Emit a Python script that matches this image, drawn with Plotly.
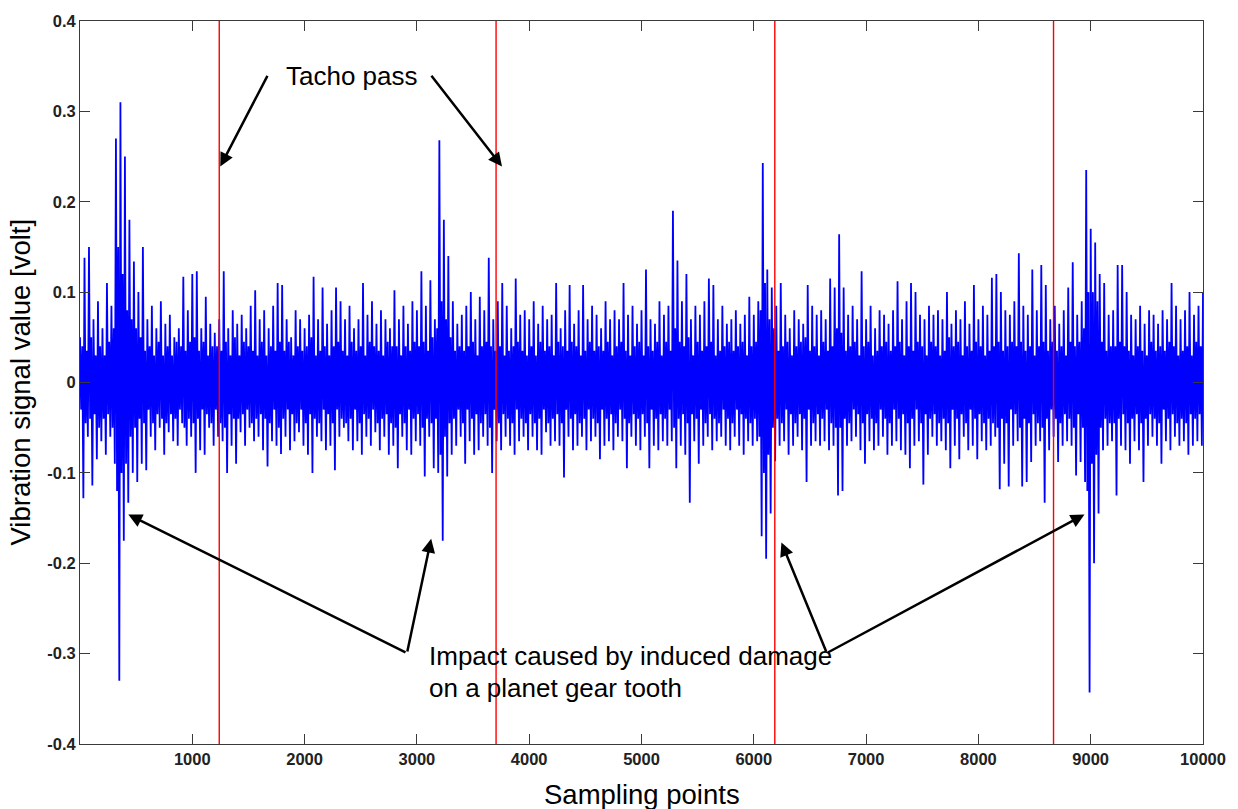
import plotly.graph_objects as go

# ---- data ----
sample_step = 10  # samples between listed values
vibration_volt = [
    0.05, -0.03, 0.04, -0.128, 0.138, -0.045, 0.035, -0.06, 0.15, -0.04, 0.05, -0.114, 0.07, -0.035, 0.03, -0.085, 0.09, -0.05, 0.04, -0.065,
    0.06, -0.04, 0.03, -0.08, 0.11, -0.035, 0.045, -0.06, 0.085, -0.05, 0.06, -0.09, 0.27, -0.12, 0.15, -0.33, 0.31, -0.1, 0.12, -0.175,
    0.25, -0.09, 0.08, -0.133, 0.18, -0.06, 0.07, -0.10, 0.134, -0.05, 0.06, -0.11, 0.10, -0.04, 0.05, -0.09, 0.15, -0.045, 0.035, -0.097,
    0.07, -0.03, 0.04, -0.06, 0.085, -0.045, 0.03, -0.075, 0.06, -0.035, 0.045, -0.05, 0.09, -0.04, 0.03, -0.08, 0.065, -0.045, 0.04, -0.055,
    0.075, -0.035, 0.03, -0.065, 0.05, -0.04, 0.045, -0.07, 0.06, -0.03, 0.04, -0.045, 0.117, -0.05, 0.035, -0.07, 0.08, -0.04, 0.045, -0.06,
    0.12, -0.045, 0.05, -0.10, 0.123, -0.04, 0.035, -0.075, 0.06, -0.03, 0.045, -0.08, 0.095, -0.035, 0.03, -0.05, 0.065, -0.045, 0.04, -0.07,
    0.055, -0.03, 0.04, -0.06, 0.07, -0.045, 0.035, -0.065, 0.123, -0.05, 0.045, -0.10, 0.06, -0.035, 0.03, -0.07, 0.08, -0.04, 0.05, -0.09,
    0.065, -0.04, 0.03, -0.055, 0.075, -0.035, 0.045, -0.07, 0.06, -0.03, 0.04, -0.05, 0.085, -0.045, 0.035, -0.065, 0.102, -0.04, 0.03, -0.06,
    0.07, -0.035, 0.045, -0.075, 0.08, -0.04, 0.03, -0.093, 0.06, -0.045, 0.04, -0.065, 0.085, -0.03, 0.035, -0.07, 0.11, -0.05, 0.045, -0.079,
    0.108, -0.04, 0.035, -0.06, 0.07, -0.03, 0.045, -0.075, 0.05, -0.035, 0.03, -0.065, 0.08, -0.045, 0.04, -0.055, 0.07, -0.03, 0.035, -0.07,
    0.06, -0.045, 0.04, -0.08, 0.075, -0.035, 0.05, -0.10, 0.117, -0.04, 0.03, -0.06, 0.07, -0.045, 0.035, -0.065, 0.105, -0.03, 0.04, -0.075,
    0.065, -0.035, 0.03, -0.07, 0.08, -0.045, 0.04, -0.097, 0.105, -0.03, 0.045, -0.06, 0.09, -0.04, 0.035, -0.05, 0.07, -0.045, 0.03, -0.065,
    0.085, -0.04, 0.045, -0.075, 0.06, -0.03, 0.035, -0.065, 0.07, -0.045, 0.04, -0.08, 0.11, -0.035, 0.03, -0.06, 0.075, -0.04, 0.045, -0.07,
    0.09, -0.03, 0.04, -0.055, 0.065, -0.045, 0.035, -0.075, 0.08, -0.04, 0.03, -0.06, 0.07, -0.035, 0.045, -0.08, 0.06, -0.045, 0.04, -0.07,
    0.102, -0.05, 0.04, -0.095, 0.07, -0.035, 0.03, -0.06, 0.085, -0.045, 0.04, -0.075, 0.065, -0.03, 0.035, -0.08, 0.09, -0.04, 0.045, -0.065,
    0.08, -0.035, 0.04, -0.07, 0.123, -0.05, 0.045, -0.104, 0.085, -0.04, 0.035, -0.06, 0.113, -0.045, 0.05, -0.095, 0.07, -0.04, 0.06, -0.10,
    0.268, -0.08, 0.09, -0.175, 0.18, -0.06, 0.07, -0.104, 0.14, -0.045, 0.05, -0.08, 0.09, -0.04, 0.035, -0.07, 0.065, -0.03, 0.04, -0.06,
    0.075, -0.045, 0.035, -0.09, 0.085, -0.03, 0.04, -0.065, 0.10, -0.04, 0.045, -0.08, 0.07, -0.035, 0.03, -0.075, 0.095, -0.045, 0.04, -0.06,
    0.08, -0.035, 0.045, -0.07, 0.138, -0.05, 0.04, -0.10, 0.07, -0.03, 0.035, -0.065, 0.09, -0.045, 0.04, -0.075, 0.11, -0.035, 0.03, -0.06,
    0.085, -0.04, 0.035, -0.07, 0.06, -0.045, 0.04, -0.08, 0.115, -0.03, 0.045, -0.065, 0.075, -0.04, 0.035, -0.06, 0.08, -0.045, 0.03, -0.075,
    0.07, -0.035, 0.04, -0.06, 0.09, -0.045, 0.03, -0.075, 0.065, -0.04, 0.045, -0.08, 0.085, -0.03, 0.035, -0.055, 0.07, -0.045, 0.04, -0.07,
    0.075, -0.04, 0.03, -0.065, 0.11, -0.035, 0.045, -0.07, 0.06, -0.045, 0.04, -0.105, 0.08, -0.03, 0.035, -0.06, 0.108, -0.04, 0.045, -0.075,
    0.065, -0.035, 0.04, -0.07, 0.08, -0.045, 0.03, -0.06, 0.108, -0.04, 0.035, -0.075, 0.07, -0.03, 0.045, -0.065, 0.085, -0.04, 0.035, -0.06,
    0.075, -0.045, 0.04, -0.085, 0.06, -0.03, 0.035, -0.07, 0.09, -0.04, 0.045, -0.065, 0.07, -0.035, 0.03, -0.075, 0.08, -0.045, 0.04, -0.06,
    0.07, -0.03, 0.045, -0.065, 0.11, -0.04, 0.035, -0.095, 0.075, -0.045, 0.03, -0.06, 0.085, -0.035, 0.04, -0.07, 0.065, -0.04, 0.045, -0.075,
    0.08, -0.035, 0.03, -0.06, 0.125, -0.045, 0.04, -0.095, 0.07, -0.03, 0.035, -0.07, 0.065, -0.04, 0.045, -0.075, 0.09, -0.035, 0.03, -0.065,
    0.075, -0.04, 0.045, -0.07, 0.085, -0.03, 0.035, -0.065, 0.19, -0.05, 0.06, -0.095, 0.135, -0.04, 0.045, -0.07, 0.09, -0.035, 0.04, -0.08,
    0.12, -0.045, 0.05, -0.133, 0.07, -0.035, 0.03, -0.065, 0.085, -0.04, 0.045, -0.09, 0.075, -0.03, 0.035, -0.07, 0.09, -0.045, 0.04, -0.06,
    0.115, -0.035, 0.045, -0.075, 0.108, -0.04, 0.03, -0.065, 0.07, -0.045, 0.035, -0.06, 0.085, -0.03, 0.04, -0.07, 0.065, -0.04, 0.045, -0.075,
    0.07, -0.045, 0.035, -0.06, 0.08, -0.03, 0.04, -0.07, 0.065, -0.035, 0.045, -0.08, 0.075, -0.04, 0.03, -0.065, 0.095, -0.045, 0.04, -0.07,
    0.075, -0.04, 0.045, -0.065, 0.09, -0.06, 0.08, -0.17, 0.243, -0.10, 0.11, -0.195, 0.125, -0.08, 0.07, -0.145, 0.105, -0.05, 0.06, -0.087,
    0.085, -0.04, 0.035, -0.07, 0.11, -0.045, 0.04, -0.065, 0.075, -0.03, 0.045, -0.08, 0.06, -0.035, 0.03, -0.07, 0.08, -0.045, 0.04, -0.06,
    0.07, -0.035, 0.045, -0.075, 0.065, -0.04, 0.05, -0.11, 0.108, -0.03, 0.035, -0.07, 0.085, -0.045, 0.04, -0.065, 0.075, -0.035, 0.03, -0.07,
    0.08, -0.04, 0.045, -0.065, 0.07, -0.03, 0.035, -0.075, 0.115, -0.045, 0.04, -0.07, 0.105, -0.05, 0.06, -0.125, 0.164, -0.05, 0.055, -0.12,
    0.105, -0.04, 0.035, -0.07, 0.075, -0.045, 0.04, -0.065, 0.085, -0.03, 0.045, -0.06, 0.07, -0.035, 0.03, -0.075, 0.123, -0.045, 0.04, -0.09,
    0.07, -0.035, 0.045, -0.065, 0.085, -0.04, 0.03, -0.075, 0.06, -0.045, 0.035, -0.07, 0.08, -0.03, 0.04, -0.06, 0.075, -0.04, 0.045, -0.08,
    0.065, -0.045, 0.035, -0.07, 0.08, -0.03, 0.04, -0.065, 0.112, -0.04, 0.045, -0.075, 0.07, -0.035, 0.03, -0.08, 0.09, -0.045, 0.04, -0.095,
    0.11, -0.04, 0.035, -0.07, 0.10, -0.03, 0.045, -0.065, 0.075, -0.045, 0.04, -0.113, 0.07, -0.035, 0.03, -0.08, 0.085, -0.04, 0.045, -0.06,
    0.075, -0.035, 0.04, -0.07, 0.08, -0.045, 0.03, -0.065, 0.07, -0.04, 0.035, -0.075, 0.10, -0.045, 0.05, -0.095, 0.065, -0.03, 0.04, -0.07,
    0.08, -0.04, 0.045, -0.085, 0.07, -0.035, 0.03, -0.06, 0.09, -0.045, 0.04, -0.075, 0.065, -0.03, 0.035, -0.07, 0.108, -0.04, 0.045, -0.085,
    0.07, -0.035, 0.04, -0.065, 0.085, -0.045, 0.03, -0.075, 0.075, -0.04, 0.035, -0.07, 0.116, -0.045, 0.04, -0.06, 0.12, -0.05, 0.045, -0.118,
    0.10, -0.04, 0.035, -0.09, 0.08, -0.045, 0.04, -0.115, 0.075, -0.03, 0.045, -0.07, 0.09, -0.035, 0.04, -0.065, 0.143, -0.05, 0.045, -0.115,
    0.085, -0.04, 0.035, -0.11, 0.075, -0.045, 0.04, -0.088, 0.125, -0.035, 0.03, -0.07, 0.08, -0.045, 0.04, -0.065, 0.13, -0.05, 0.045, -0.133,
    0.108, -0.04, 0.035, -0.075, 0.07, -0.03, 0.045, -0.06, 0.085, -0.04, 0.035, -0.088, 0.065, -0.045, 0.04, -0.07, 0.08, -0.035, 0.03, -0.065,
    0.105, -0.04, 0.045, -0.07, 0.133, -0.05, 0.04, -0.103, 0.075, -0.035, 0.045, -0.088, 0.09, -0.05, 0.06, -0.11, 0.235, -0.12, 0.10, -0.343,
    0.17, -0.09, 0.10, -0.20, 0.155, -0.08, 0.09, -0.145, 0.12, -0.05, 0.045, -0.075, 0.11, -0.04, 0.035, -0.07, 0.075, -0.045, 0.04, -0.065,
    0.08, -0.045, 0.04, -0.125, 0.13, -0.04, 0.045, -0.07, 0.13, -0.035, 0.04, -0.075, 0.10, -0.045, 0.035, -0.09, 0.075, -0.04, 0.03, -0.065,
    0.07, -0.035, 0.04, -0.075, 0.085, -0.045, 0.035, -0.11, 0.065, -0.04, 0.03, -0.07, 0.08, -0.035, 0.045, -0.06, 0.075, -0.04, 0.035, -0.07,
    0.065, -0.045, 0.04, -0.09, 0.08, -0.03, 0.035, -0.065, 0.07, -0.04, 0.045, -0.075, 0.11, -0.035, 0.04, -0.06, 0.085, -0.045, 0.03, -0.07,
    0.07, -0.04, 0.035, -0.065, 0.08, -0.045, 0.04, -0.08, 0.10, -0.035, 0.03, -0.07, 0.075, -0.04, 0.045, -0.065, 0.085, -0.035, 0.04, -0.07,
    0.10,
]
sampling_points = [i * sample_step for i in range(len(vibration_volt))]

tacho_pass_samples = [1240, 3705, 6187, 8669]

x_tick_vals = [1000, 2000, 3000, 4000, 5000, 6000, 7000, 8000, 9000, 10000]
x_tick_text = ["1000", "2000", "3000", "4000", "5000", "6000", "7000", "8000", "9000", "10000"]
y_tick_vals = [-0.4, -0.3, -0.2, -0.1, 0, 0.1, 0.2, 0.3, 0.4]
y_tick_text = ["-0.4", "-0.3", "-0.2", "-0.1", "0", "0.1", "0.2", "0.3", "0.4"]

# annotation anchors (data coordinates)
tacho_label = (2424, 0.339)
tacho_arrow_tail = [(1676, 0.341), (3119, 0.341)]
tacho_arrow_tip = [(1249, 0.239), (3758, 0.239)]
impact_label = (3091, -0.303, -0.338)
impact_arrow_tail = [(2912, -0.2994), (2912, -0.2994), (6650, -0.2994), (6650, -0.2994)]
impact_arrow_tip = [(430, -0.146), (3127, -0.173), (6246, -0.177), (8945, -0.146)]

FONT = "Liberation Sans, Arial, Helvetica, sans-serif"

fig = go.Figure()
fig.add_trace(go.Scatter(
    x=sampling_points, y=vibration_volt, mode="lines",
    line=dict(color="#0000FF", width=1.8), hoverinfo="skip", showlegend=False,
))
for t in tacho_pass_samples:
    fig.add_trace(go.Scatter(
        x=[t, t], y=[-0.4, 0.4], mode="lines",
        line=dict(color="#FF0000", width=1.4), hoverinfo="skip", showlegend=False,
    ))

# arrows
for (tx, ty), (hx, hy) in list(zip(tacho_arrow_tail, tacho_arrow_tip)) + list(zip(impact_arrow_tail, impact_arrow_tip)):
    fig.add_annotation(
        x=hx, y=hy, ax=tx, ay=ty, xref="x", yref="y", axref="x", ayref="y",
        text="", showarrow=True, arrowhead=2, arrowsize=1.1, arrowwidth=2.5,
        arrowcolor="#000000", standoff=0,
    )

fig.add_annotation(
    x=tacho_label[0], y=tacho_label[1], xref="x", yref="y", text="Tacho pass",
    showarrow=False, font=dict(family=FONT, size=26, color="#000000"),
    xanchor="center", yanchor="middle",
)
fig.add_annotation(
    x=impact_label[0], y=impact_label[1], xref="x", yref="y",
    text="Impact caused by induced damage",
    showarrow=False, font=dict(family=FONT, size=26, color="#000000"),
    xanchor="left", yanchor="middle",
)
fig.add_annotation(
    x=impact_label[0], y=impact_label[2], xref="x", yref="y",
    text="on a planet gear tooth",
    showarrow=False, font=dict(family=FONT, size=26, color="#000000"),
    xanchor="left", yanchor="middle",
)

# axis titles
fig.add_annotation(
    x=0.5, y=-0.070, xref="paper", yref="paper", text="Sampling points",
    showarrow=False, font=dict(family=FONT, size=27.5, color="#000000"),
    xanchor="center", yanchor="middle",
)
fig.add_annotation(
    x=-0.0534, y=0.5, xref="paper", yref="paper", text="Vibration signal value [volt]",
    showarrow=False, textangle=-90, font=dict(family=FONT, size=27.5, color="#000000"),
    xanchor="center", yanchor="middle",
)

axis_common = dict(
    showline=True, linecolor="#3a3a3a", linewidth=1, mirror="ticks",
    ticks="inside", ticklen=10, tickwidth=1, tickcolor="#3a3a3a",
    showgrid=False, zeroline=False,
    tickfont=dict(family=FONT, size=16.5, color="#222222", weight="bold"),
)
fig.update_xaxes(range=[0, 10000], tickvals=x_tick_vals, ticktext=x_tick_text, **axis_common)
fig.update_yaxes(range=[-0.4, 0.4], tickvals=y_tick_vals, ticktext=y_tick_text, **axis_common)

fig.update_layout(
    width=1238, height=809,
    margin=dict(l=80, r=34, t=15, b=65),
    paper_bgcolor="white", plot_bgcolor="white",
    showlegend=False,
)

fig.write_html("out.html")
